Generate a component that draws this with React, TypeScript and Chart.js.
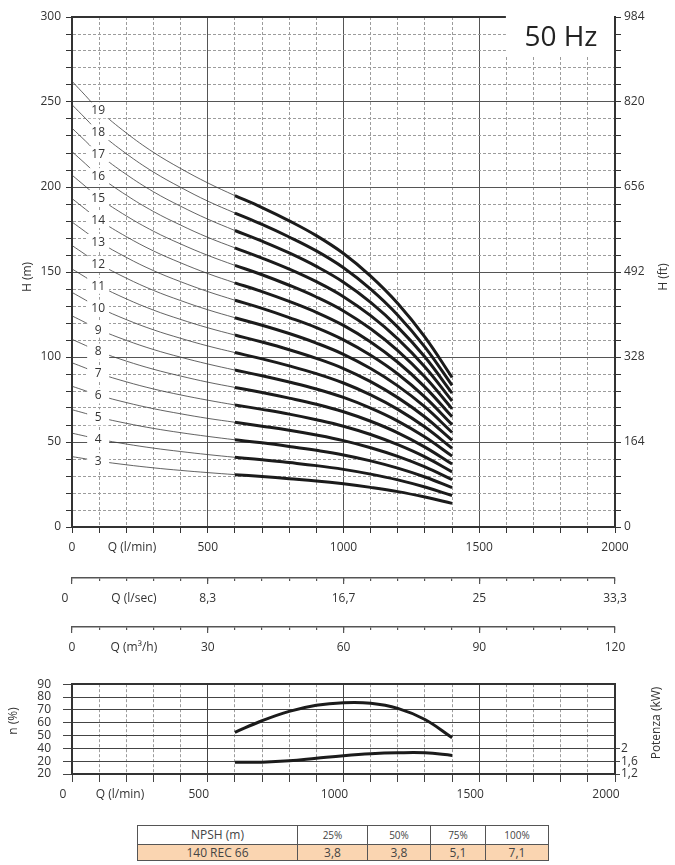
import React, { useEffect, useRef } from 'react';
import { Chart, registerables } from 'chart.js';

Chart.register(...registerables);

const FONT = '"Open Sans", "DejaVu Sans", sans-serif';
const TEXT = '#333333';
const CURVE = '#1b1b1b';

// ---------- main H-Q chart data ----------
const stages = [3, 4, 5, 6, 7, 8, 9, 10, 11, 12, 13, 14, 15, 16, 17, 18, 19];
const qLow = [0, 50, 100, 200, 300, 400, 500, 600];
const qHigh = [600, 700, 800, 900, 1000, 1100, 1200, 1300, 1400];

// head (m) on the thin part of each curve (Q = qLow), one row per stage
const headLow = [
  [41.4, 40.1, 38.7, 36.6, 34.8, 33.3, 32.0, 30.8],
  [55.2, 53.4, 51.6, 48.8, 46.4, 44.4, 42.6, 41.0],
  [69.0, 66.8, 64.5, 61.0, 58.0, 55.5, 53.3, 51.3],
  [82.8, 80.1, 77.4, 73.2, 69.6, 66.6, 63.9, 61.6],
  [96.6, 93.5, 90.3, 85.4, 81.2, 77.7, 74.6, 71.8],
  [110.4, 106.8, 103.2, 97.6, 92.8, 88.8, 85.2, 82.1],
  [124.2, 120.2, 116.1, 109.8, 104.4, 99.9, 95.9, 92.3],
  [138.0, 133.5, 129.0, 122.0, 116.0, 111.0, 106.5, 102.6],
  [151.8, 146.9, 141.9, 134.2, 127.6, 122.1, 117.2, 112.9],
  [165.6, 160.2, 154.8, 146.4, 139.2, 133.2, 127.8, 123.1],
  [179.4, 173.6, 167.7, 158.6, 150.8, 144.3, 138.5, 133.4],
  [193.2, 186.9, 180.6, 170.8, 162.4, 155.4, 149.1, 143.6],
  [207.0, 200.3, 193.5, 183.0, 174.0, 166.5, 159.8, 153.9],
  [220.8, 213.6, 206.4, 195.2, 185.6, 177.6, 170.4, 164.2],
  [234.6, 227.0, 219.3, 207.4, 197.2, 188.7, 181.1, 174.4],
  [248.4, 240.3, 232.2, 219.6, 208.8, 199.8, 191.7, 184.7],
  [262.2, 253.7, 245.1, 231.8, 220.4, 210.9, 202.4, 194.9],
];

// head (m) on the bold working range of each curve (Q = qHigh)
const headHigh = [
  [30.8, 29.7, 28.4, 27.1, 25.4, 23.3, 20.8, 17.6, 13.9],
  [41.0, 39.6, 37.9, 36.1, 33.9, 31.1, 27.7, 23.5, 18.5],
  [51.3, 49.5, 47.4, 45.1, 42.4, 38.9, 34.6, 29.4, 23.2],
  [61.6, 59.3, 56.9, 54.1, 50.8, 46.6, 41.5, 35.3, 27.8],
  [71.8, 69.2, 66.4, 63.1, 59.3, 54.4, 48.4, 41.2, 32.4],
  [82.1, 79.1, 75.8, 72.2, 67.8, 62.2, 55.4, 47.0, 37.0],
  [92.3, 89.0, 85.3, 81.2, 76.2, 69.9, 62.3, 52.9, 41.7],
  [102.6, 98.9, 94.8, 90.2, 84.7, 77.7, 69.2, 58.8, 46.3],
  [112.9, 108.8, 104.3, 99.2, 93.2, 85.5, 76.1, 64.7, 50.9],
  [123.1, 118.7, 113.8, 108.2, 101.6, 93.2, 83.0, 70.6, 55.6],
  [133.4, 128.6, 123.2, 117.3, 110.1, 101.0, 90.0, 76.4, 60.2],
  [143.6, 138.5, 132.7, 126.3, 118.6, 108.8, 96.9, 82.3, 64.8],
  [153.9, 148.4, 142.2, 135.3, 127.1, 116.6, 103.8, 88.2, 69.5],
  [164.2, 158.2, 151.7, 144.3, 135.5, 124.3, 110.7, 94.1, 74.1],
  [174.4, 168.1, 161.2, 153.3, 144.0, 132.1, 117.6, 100.0, 78.7],
  [184.7, 178.0, 170.6, 162.4, 152.5, 139.9, 124.6, 105.8, 83.3],
  [194.9, 187.9, 180.1, 171.4, 160.9, 147.6, 131.5, 111.7, 88.0],
];

const qMajorLabels = ['0', '500', '1000', '1500', '2000'];
const ftLabels = ['0', '164', '328', '492', '656', '820', '984'];
const lsecLabels = ['0', '8,3', '16,7', '25', '33,3'];
const m3hLabels = ['0', '30', '60', '90', '120'];

// ---------- efficiency / power chart ----------
const effQ = [600, 700, 800, 900, 1000, 1100, 1200, 1300, 1400];
const efficiency = [52.5, 61.5, 68.8, 73.6, 75.6, 75.2, 71.2, 62.5, 48.3];
const powerKW = [1.57, 1.57, 1.61, 1.69, 1.77, 1.83, 1.86, 1.86, 1.78];
const effLabels = ['20', '20', '40', '50', '60', '70', '80', '90'];
const powerTicks = [1.2, 1.6, 2];
const powerLabels = ['1,2', '1,6', '2'];

// ---------- NPSH table ----------
const npshHeader = ['NPSH (m)', '25%', '50%', '75%', '100%'];
const npshRow = ['140 REC 66', '3,8', '3,8', '5,1', '7,1'];

// ---------------------------------------------------------------
const isMajor = (v: number) => Math.abs(v % 500) < 1e-6;
const tickVal = (c: any) => (c && c.tick ? c.tick.value : NaN);

function qTicks(extra: number[]) {
  const t: { value: number }[] = [];
  for (let v = 0; v <= 2000; v += 100) t.push({ value: v });
  extra.forEach((e) => t.push({ value: e }));
  t.sort((a, b) => a.value - b.value);
  return t;
}

const Q_MAIN_TITLE = 221;

function mainConfig(): any {
  const datasets: any[] = [];
  stages.forEach((s, i) => {
    datasets.push({
      data: qLow.map((q, j) => ({ x: q, y: headLow[i][j] })),
      borderColor: '#3c3c3c',
      borderWidth: 0.8,
      pointRadius: 0,
      tension: 0.4,
    });
    datasets.push({
      data: qHigh.map((q, j) => ({ x: q, y: headHigh[i][j] })),
      borderColor: CURVE,
      borderWidth: 3,
      pointRadius: 0,
      tension: 0.4,
    });
  });

  const labelsPlugin = {
    id: 'stageLabels',
    afterDatasetsDraw(chart: any) {
      const { ctx, scales } = chart;
      const xs = scales.x;
      const ys = scales.y;
      ctx.save();
      ctx.font = `12px ${FONT}`;
      ctx.textAlign = 'center';
      ctx.textBaseline = 'middle';
      stages.forEach((s, i) => {
        const px = xs.getPixelForValue(qLow[2]) - 1;
        const py = ys.getPixelForValue(headLow[i][2]);
        ctx.fillStyle = '#ffffff';
        ctx.fillRect(px - 11, py - 8, 22, 16);
        ctx.fillStyle = TEXT;
        ctx.fillText(String(s), px, py + 0.5);
      });
      ctx.restore();
    },
    afterDraw(chart: any) {
      const { ctx, scales, chartArea } = chart;
      const xs = scales.x;
      const x0 = xs.getPixelForValue(1600) - 0.5;
      const x1 = chartArea.right - 1;
      ctx.save();
      ctx.fillStyle = '#ffffff';
      ctx.fillRect(x0, 0, x1 - x0, 57);
      ctx.fillStyle = '#222';
      ctx.font = `28px ${FONT}`;
      ctx.textAlign = 'center';
      ctx.textBaseline = 'middle';
      ctx.fillText('50 Hz', (x0 + x1) / 2 + 1, 38);
      // axis titles
      ctx.font = `12px ${FONT}`;
      ctx.fillStyle = TEXT;
      const rot = (t: string, x: number, y: number) => {
        ctx.save();
        ctx.translate(x, y);
        ctx.rotate(-Math.PI / 2);
        ctx.fillText(t, 0, 0);
        ctx.restore();
      };
      rot('H (m)', 28, 277);
      rot('H (ft)', 664, 277);
      ctx.restore();
    },
  };

  return {
    type: 'line',
    data: { datasets },
    plugins: [labelsPlugin],
    options: {
      animation: false,
      responsive: false,
      events: [],
      layout: { padding: { top: 17, left: 0, right: 0, bottom: 0 } },
      plugins: { legend: { display: false }, tooltip: { enabled: false } },
      scales: {
        x: {
          type: 'linear',
          position: 'bottom',
          min: 0,
          max: 2000,
          afterBuildTicks: (s: any) => {
            s.ticks = qTicks([Q_MAIN_TITLE]);
          },
          afterFit: (s: any) => {
            s.height = 33;
          },
          ticks: {
            autoSkip: false,
            maxRotation: 0,
            padding: 7,
            color: TEXT,
            font: { family: FONT, size: 12 },
            callback: (v: number) =>
              v === Q_MAIN_TITLE ? 'Q (l/min)' : isMajor(v) ? qMajorLabels[v / 500] : '',
          },
          grid: {
            color: (c: any) => {
              const v = tickVal(c);
              return v === Q_MAIN_TITLE || isMajor(v) ? 'rgba(0,0,0,0)' : '#9c9c9c';
            },
            lineWidth: 1,
            tickLength: 6,
            tickColor: (c: any) => (tickVal(c) === Q_MAIN_TITLE ? 'rgba(0,0,0,0)' : '#333'),
          },
          border: { display: true, color: '#333', width: 2, dash: [3, 2] },
        },
        xTop: {
          type: 'linear',
          position: 'top',
          min: 0,
          max: 2000,
          ticks: { display: false, stepSize: 500 },
          afterFit: (s: any) => {
            s.height = 0;
          },
          grid: { color: '#555', lineWidth: 1, drawTicks: false },
          border: { display: true, color: '#333', width: 2 },
        },
        y: {
          type: 'linear',
          position: 'left',
          min: 0,
          max: 300,
          afterFit: (s: any) => {
            s.width = 72;
          },
          ticks: {
            stepSize: 10,
            autoSkip: false,
            padding: 5,
            color: TEXT,
            font: { family: FONT, size: 12 },
            callback: (v: number) => (v % 50 === 0 ? String(v) : ''),
          },
          grid: {
            color: (c: any) => (tickVal(c) % 50 === 0 ? 'rgba(0,0,0,0)' : '#9c9c9c'),
            lineWidth: 1,
            tickLength: 6,
            tickColor: '#333',
          },
          border: { display: true, color: '#333', width: 2, dash: [3, 2] },
        },
        yR: {
          type: 'linear',
          position: 'right',
          min: 0,
          max: 300,
          afterFit: (s: any) => {
            s.width = 60;
          },
          ticks: {
            stepSize: 10,
            autoSkip: false,
            padding: 3,
            color: TEXT,
            font: { family: FONT, size: 12 },
            callback: (v: number) => (v % 50 === 0 ? ftLabels[v / 50] : ''),
          },
          grid: {
            color: (c: any) => {
              const v = tickVal(c);
              return v % 50 === 0 && v > 0 && v < 300 ? '#555' : 'rgba(0,0,0,0)';
            },
            lineWidth: 1,
            tickLength: 6,
            tickColor: '#333',
          },
          border: { display: true, color: '#333', width: 2 },
        },
      },
    },
  };
}

function axisRowConfig(
  labels: string[],
  title: string,
  titlePos: number,
  zeroPos: number,
  padTop: number,
  axisHeight: number,
): any {
  const extra = [titlePos];
  if (zeroPos !== 0) extra.push(zeroPos);
  return {
    type: 'line',
    data: { datasets: [] },
    options: {
      animation: false,
      responsive: false,
      events: [],
      layout: { padding: { top: padTop, left: 72, right: 60, bottom: 0 } },
      plugins: { legend: { display: false }, tooltip: { enabled: false } },
      scales: {
        y: { display: false, min: 0, max: 1 },
        xt: {
          type: 'linear',
          position: 'top',
          min: 0,
          max: 2000,
          ticks: { display: false, stepSize: 100 },
          afterFit: (s: any) => {
            s.height = 0;
          },
          grid: { color: '#555', lineWidth: 1.2, drawTicks: false },
          border: { display: true, color: '#555', width: 1.5 },
        },
        x: {
          type: 'linear',
          position: 'bottom',
          min: 0,
          max: 2000,
          afterBuildTicks: (s: any) => {
            const t = [0, 500, 1000, 1500, 2000].map((v) => ({ value: v }));
            extra.forEach((e) => t.push({ value: e }));
            t.sort((a, b) => a.value - b.value);
            s.ticks = t;
          },
          afterFit: (s: any) => {
            s.height = axisHeight;
          },
          ticks: {
            autoSkip: false,
            maxRotation: 0,
            padding: 7,
            color: TEXT,
            font: { family: FONT, size: 12 },
            callback: (v: number) => {
              if (v === titlePos) return title;
              if (zeroPos !== 0 && v === zeroPos) return labels[0];
              if (zeroPos !== 0 && v === 0) return '';
              return isMajor(v) ? labels[v / 500] : '';
            },
          },
          grid: {
            color: (c: any) => (isMajor(tickVal(c)) && tickVal(c) >= 0 ? '#555' : 'rgba(0,0,0,0)'),
            lineWidth: 1.2,
            tickLength: 3,
            tickWidth: 1.2,
            tickColor: (c: any) => (isMajor(tickVal(c)) && tickVal(c) >= 0 ? '#555' : 'rgba(0,0,0,0)'),
          },
          border: { display: false },
        },
      },
    },
  };
}

const Q_EFF_TITLE = 210;

function effConfig(): any {
  const titlesPlugin = {
    id: 'effTitles',
    afterDraw(chart: any) {
      const { ctx } = chart;
      ctx.save();
      ctx.font = `12px ${FONT}`;
      ctx.fillStyle = TEXT;
      ctx.textAlign = 'center';
      ctx.textBaseline = 'middle';
      const rot = (t: string, x: number, y: number) => {
        ctx.save();
        ctx.translate(x, y);
        ctx.rotate(-Math.PI / 2);
        ctx.fillText(t, 0, 0);
        ctx.restore();
      };
      rot('n (%)', 14, 56);
      rot('Potenza (kW)', 657, 58);
      ctx.restore();
    },
  };
  return {
    type: 'line',
    data: {
      datasets: [
        {
          data: effQ.map((q, j) => ({ x: q, y: efficiency[j] })),
          borderColor: CURVE,
          borderWidth: 3,
          pointRadius: 0,
          tension: 0.4,
          yAxisID: 'y',
        },
        {
          data: effQ.map((q, j) => ({ x: q, y: powerKW[j] })),
          borderColor: CURVE,
          borderWidth: 3,
          pointRadius: 0,
          tension: 0.4,
          yAxisID: 'y2',
        },
      ],
    },
    plugins: [titlesPlugin],
    options: {
      animation: false,
      responsive: false,
      events: [],
      layout: { padding: { top: 15, left: 0, right: 0, bottom: 0 } },
      plugins: { legend: { display: false }, tooltip: { enabled: false } },
      scales: {
        x: {
          type: 'linear',
          position: 'bottom',
          min: 0,
          max: 2000,
          afterBuildTicks: (s: any) => {
            s.ticks = qTicks([Q_EFF_TITLE]);
          },
          afterFit: (s: any) => {
            s.height = 41;
          },
          ticks: {
            autoSkip: false,
            maxRotation: 0,
            padding: 5,
            labelOffset: -9,
            color: TEXT,
            font: { family: FONT, size: 12 },
            callback: (v: number) =>
              v === Q_EFF_TITLE ? 'Q (l/min)' : isMajor(v) ? qMajorLabels[v / 500] : '',
          },
          grid: {
            color: (c: any) => {
              const v = tickVal(c);
              return v === Q_EFF_TITLE || isMajor(v) ? 'rgba(0,0,0,0)' : '#9c9c9c';
            },
            lineWidth: 1,
            tickLength: 8,
            tickColor: (c: any) => (tickVal(c) === Q_EFF_TITLE ? 'rgba(0,0,0,0)' : '#444'),
          },
          border: { display: true, color: '#333', width: 2, dash: [3, 2] },
        },
        xt: {
          type: 'linear',
          position: 'top',
          min: 0,
          max: 2000,
          ticks: { display: false, stepSize: 500 },
          afterFit: (s: any) => {
            s.height = 0;
          },
          grid: { color: '#444', lineWidth: 1, drawTicks: false },
          border: { display: true, color: '#333', width: 2 },
        },
        y: {
          type: 'linear',
          position: 'left',
          min: 20,
          max: 90,
          afterFit: (s: any) => {
            s.width = 72;
          },
          ticks: {
            stepSize: 10,
            autoSkip: false,
            padding: 12,
            color: TEXT,
            font: { family: FONT, size: 12 },
            callback: (v: number) => effLabels[Math.round((v - 20) / 10)],
          },
          grid: { color: '#444', lineWidth: 1, tickLength: 9, tickColor: '#444' },
          border: { display: true, color: '#333', width: 2 },
        },
        y2: {
          type: 'linear',
          position: 'right',
          min: 1.2,
          max: 4.0,
          afterBuildTicks: (s: any) => {
            s.ticks = powerTicks.map((v) => ({ value: v }));
          },
          afterFit: (s: any) => {
            s.width = 60;
          },
          ticks: {
            autoSkip: false,
            padding: 1,
            color: TEXT,
            font: { family: FONT, size: 12 },
            callback: (v: number) => {
              const i = powerTicks.indexOf(v);
              return i >= 0 ? powerLabels[i] : '';
            },
          },
          grid: { drawOnChartArea: false, tickLength: 5, tickColor: '#444' },
          border: { display: true, color: '#333', width: 2 },
        },
      },
    },
  };
}

export default function App() {
  const mainRef = useRef<HTMLCanvasElement>(null);
  const lsecRef = useRef<HTMLCanvasElement>(null);
  const m3hRef = useRef<HTMLCanvasElement>(null);
  const effRef = useRef<HTMLCanvasElement>(null);

  useEffect(() => {
    const charts = [
      new Chart(mainRef.current as HTMLCanvasElement, mainConfig()),
      new Chart(
        lsecRef.current as HTMLCanvasElement,
        axisRowConfig(lsecLabels, 'Q (l/sec)', 228, -26, 18, 29),
      ),
      new Chart(
        m3hRef.current as HTMLCanvasElement,
        axisRowConfig(m3hLabels, 'Q (m³/h)', 228, 0, 17, 35),
      ),
      new Chart(effRef.current as HTMLCanvasElement, effConfig()),
    ];
    return () => charts.forEach((c) => c.destroy());
  }, []);

  const cell: React.CSSProperties = {
    border: '1.5px solid #555',
    textAlign: 'center',
    padding: 0,
    lineHeight: '14px',
    whiteSpace: 'nowrap',
  };
  const colW = [160, 70, 63, 55, 63];

  return (
    <div
      style={{
        position: 'absolute',
        left: 0,
        top: 0,
        width: 675,
        height: 865,
        background: '#fff',
        fontFamily: FONT,
        overflow: 'hidden',
      }}
    >
      <canvas ref={mainRef} width={675} height={560} style={{ position: 'absolute', left: 0, top: 0 }} />
      <canvas ref={lsecRef} width={675} height={50} style={{ position: 'absolute', left: 0, top: 560 }} />
      <canvas ref={m3hRef} width={675} height={55} style={{ position: 'absolute', left: 0, top: 610 }} />
      <canvas ref={effRef} width={675} height={150} style={{ position: 'absolute', left: 0, top: 665 }} />
      <table
        style={{
          position: 'absolute',
          left: 137,
          top: 825,
          width: 411,
          borderCollapse: 'collapse',
          tableLayout: 'fixed',
          color: '#444',
          fontFamily: FONT,
        }}
      >
        <colgroup>
          {colW.map((w, i) => (
            <col key={i} style={{ width: w }} />
          ))}
        </colgroup>
        <tbody>
          <tr style={{ height: 19 }}>
            {npshHeader.map((h, i) => (
              <td key={i} style={{ ...cell, fontSize: i === 0 ? 12 : 10 }}>
                {h}
              </td>
            ))}
          </tr>
          <tr style={{ height: 16, background: '#FAD5B1' }}>
            {npshRow.map((h, i) => (
              <td key={i} style={{ ...cell, fontSize: 12 }}>
                {h}
              </td>
            ))}
          </tr>
        </tbody>
      </table>
    </div>
  );
}
